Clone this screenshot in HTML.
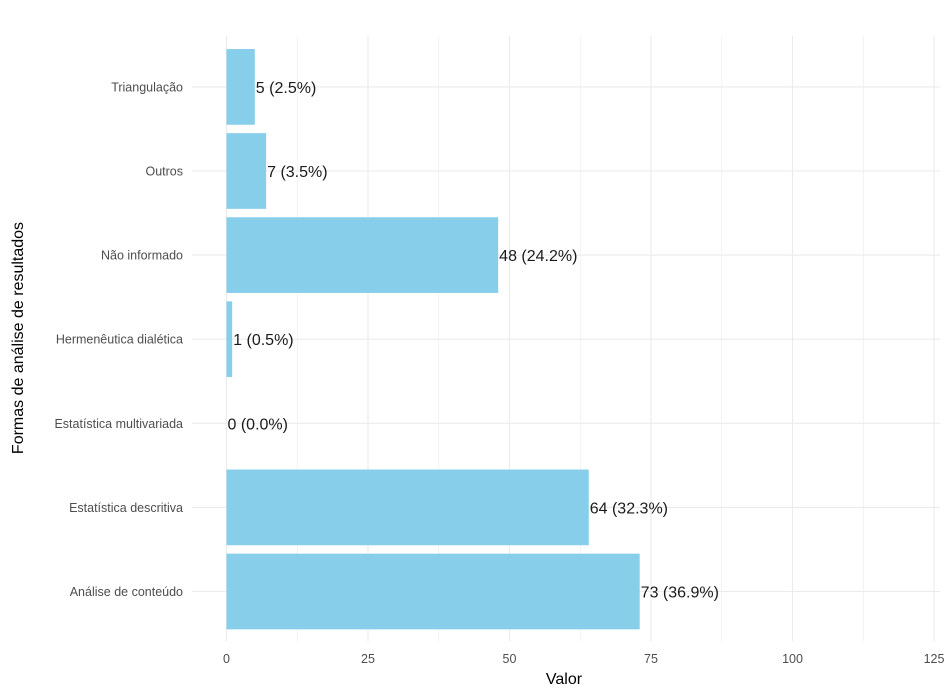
<!DOCTYPE html>
<html><head><meta charset="utf-8"><style>
body{margin:0;background:#fff;}
svg{display:block;font-family:"Liberation Sans",Arial,sans-serif;}
</style></head><body>
<svg id="chart" width="945" height="696"></svg>
<script>
const categories=["Análise de conteúdo","Estatística descritiva","Estatística multivariada","Hermenêutica dialética","Não informado","Outros","Triangulação"];
const values=[73,64,0,1,48,7,5];
const percents=["36.9%","32.3%","0.0%","0.5%","24.2%","3.5%","2.5%"];
const ticks=[0,25,50,75,100,125];
const NS="http://www.w3.org/2000/svg";
const svg=document.getElementById("chart");
const x0=226.5, ppu=5.66, panelL=192, panelR=940, panelT=36, panelB=641;
const c0=591.5, step=84.1;
const x=v=>x0+v*ppu;
const y=i=>c0-i*step;
function mk(t,a,p){const e=document.createElementNS(NS,t);for(const k in a)e.setAttribute(k,a[k]);(p||svg).appendChild(e);return e;}
const grid=mk("g",{});


for(let v=0;v<=125;v+=12.5){const l=mk("line",{x1:x(v),x2:x(v),y1:panelT,y2:panelB,stroke:"#ebebeb","stroke-width":ticks.includes(v)?1.1:0.6},grid);}
categories.forEach((c,i)=>{mk("line",{x1:panelL,x2:panelR,y1:y(i),y2:y(i),stroke:"#ebebeb","stroke-width":1.1},grid);});
categories.forEach((c,i)=>{
 const h=step*0.9;
 const r=mk("rect",{x:x(0),y:y(i)-h/2,width:Math.max(0,x(values[i])-x(0)),height:h,fill:"#87ceeb"});
 
 
 const t=mk("text",{x:x(values[i])+1,y:y(i)+6,"font-size":"16",fill:"#1a1a1a"});
 t.textContent=values[i]+" ("+percents[i]+")";
 
 
 const lb=mk("text",{x:183,y:y(i)+4.5,"font-size":"12.5",fill:"#4d4d4d","text-anchor":"end"});
 lb.textContent=c;
 
 
});
ticks.forEach(v=>{
 const t=mk("text",{x:x(v),y:663,"font-size":"12.5",fill:"#4d4d4d","text-anchor":"middle"});
 t.textContent=v;
 
 
});
const xt=mk("text",{x:564,y:684,"font-size":"16",fill:"#000","text-anchor":"middle"});
xt.textContent="Valor";


const yt=mk("text",{x:0,y:0,"font-size":"16",fill:"#000","text-anchor":"middle",transform:"translate(23,338) rotate(-90)"});
yt.textContent="Formas de análise de resultados";


</script>
</body></html>
